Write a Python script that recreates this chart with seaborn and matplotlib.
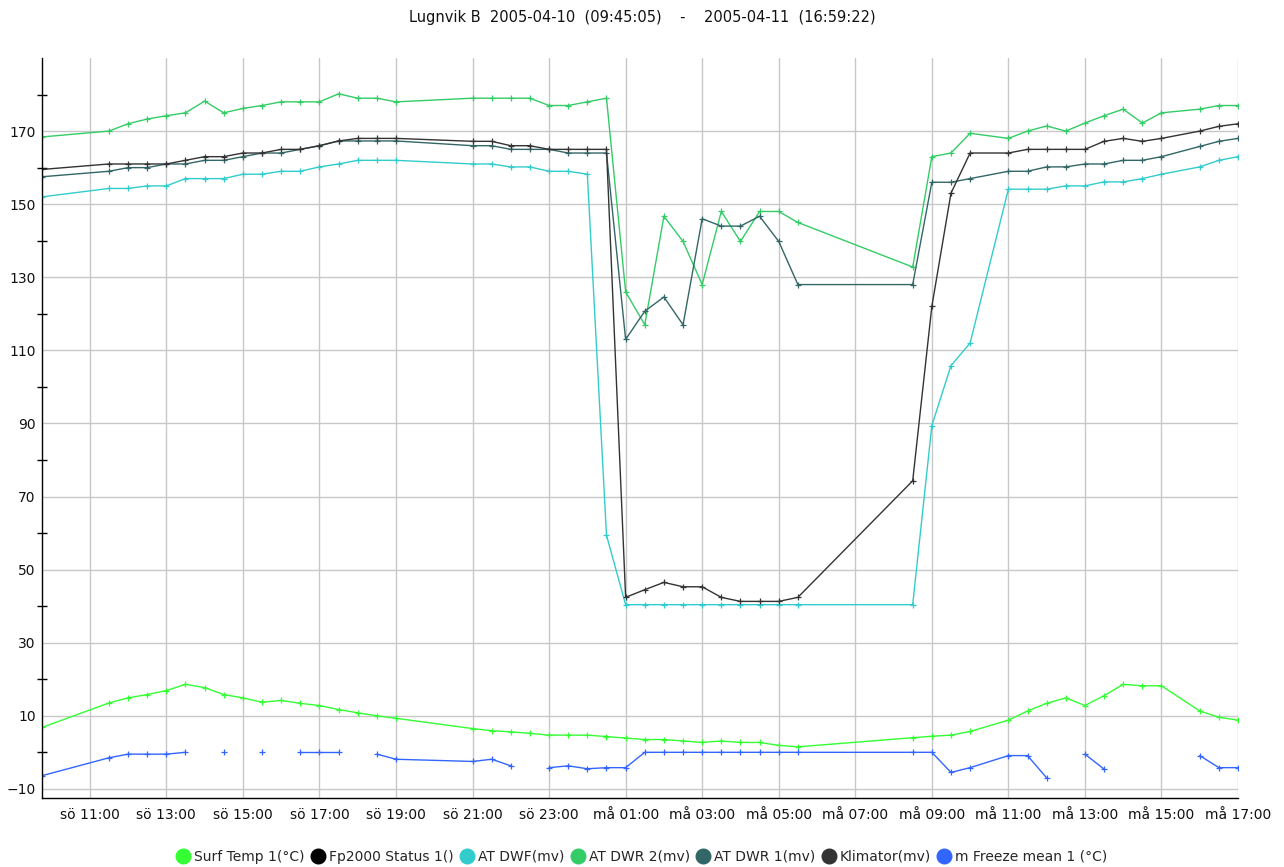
import numpy as np
import pandas as pd
import matplotlib
matplotlib.use("Agg")
import matplotlib.pyplot as plt
import matplotlib.dates as mdates
from matplotlib.lines import Line2D
from matplotlib.ticker import FuncFormatter
import seaborn as sns

# tidpunkter for mätvärden
times = [
    "2005-04-10 09:45", "2005-04-10 11:30", "2005-04-10 12:00", "2005-04-10 12:30",
    "2005-04-10 13:00", "2005-04-10 13:30", "2005-04-10 14:00", "2005-04-10 14:30",
    "2005-04-10 15:00", "2005-04-10 15:30", "2005-04-10 16:00", "2005-04-10 16:30",
    "2005-04-10 17:00", "2005-04-10 17:30", "2005-04-10 18:00", "2005-04-10 18:30",
    "2005-04-10 19:00", "2005-04-10 21:00", "2005-04-10 21:30", "2005-04-10 22:00",
    "2005-04-10 22:30", "2005-04-10 23:00", "2005-04-10 23:30", "2005-04-11 00:00",
    "2005-04-11 00:30", "2005-04-11 01:00", "2005-04-11 01:30", "2005-04-11 02:00",
    "2005-04-11 02:30", "2005-04-11 03:00", "2005-04-11 03:30", "2005-04-11 04:00",
    "2005-04-11 04:30", "2005-04-11 05:00", "2005-04-11 05:30", "2005-04-11 08:30",
    "2005-04-11 09:00", "2005-04-11 09:30", "2005-04-11 10:00", "2005-04-11 11:00",
    "2005-04-11 11:30", "2005-04-11 12:00", "2005-04-11 12:30", "2005-04-11 13:00",
    "2005-04-11 13:30", "2005-04-11 14:00", "2005-04-11 14:30", "2005-04-11 15:00",
    "2005-04-11 16:00", "2005-04-11 16:30", "2005-04-11 17:00",
]

nan = np.nan

surf_temp = [
    6.8, 13.5, 14.9, 15.8, 16.9, 18.6, 17.7, 15.8, 14.9, 13.7, 14.2, 13.4,
    12.8, 11.7, 10.8, 10.0, 9.3, 6.5, 5.9, 5.6, 5.2, 4.7, 4.7, 4.7,
    4.3, 3.9, 3.5, 3.5, 3.1, 2.7, 3.1, 2.7, 2.7, 1.9, 1.5, 4.0,
    4.4, 4.7, 5.7, 8.8, 11.3, 13.4, 14.9, 12.8, 15.5, 18.6, 18.2, 18.2,
    11.3, 9.6, 8.8,
]

fp2000_status = [nan] * len(times)

at_dwf = [
    152, 154.3, 154.3, 155, 155, 157, 157, 157, 158.2, 158.2, 159, 159,
    160.2, 161, 162, 162, 162, 161, 161, 160.2, 160.2, 159, 159, 158.2,
    59.4, 40.4, 40.4, 40.4, 40.4, 40.4, 40.4, 40.4, 40.4, 40.4, 40.4, 40.4,
    89.4, 105.8, 112, 154.1, 154.1, 154.1, 155, 155, 156.1, 156.1, 157, 158.2,
    160.2, 162, 163,
]

at_dwr2 = [
    168.4, 170, 172, 173.3, 174.2, 175, 178.2, 175, 176.2, 177, 178, 178,
    178, 180.2, 179, 179, 178, 179, 179, 179, 179, 177, 177, 178,
    179, 126, 117, 146.7, 139.8, 128, 148, 139.8, 148, 148, 145, 132.8,
    163, 164, 169.4, 168, 170, 171.4, 170, 172.2, 174.2, 176, 172.2, 175,
    176, 177, 177,
]

at_dwr1 = [
    157.5, 159, 160, 160, 161, 161, 162, 162, 163, 164, 164, 165,
    166, 167.3, 167.3, 167.3, 167.3, 166, 166, 165, 165, 165, 164, 164,
    164, 113, 120.7, 124.6, 117, 146, 144, 144, 146.7, 139.8, 128, 128,
    156, 156, 157, 159, 159, 160.2, 160.2, 161, 161, 162, 162, 163,
    165.8, 167.2, 168,
]

klimator = [
    159.5, 161, 161, 161, 161, 162, 163, 163, 164, 164, 165, 165,
    166, 167.3, 168, 168, 168, 167.2, 167.2, 166, 166, 165, 165, 165,
    165, 42.4, 44.5, 46.5, 45.3, 45.3, 42.4, 41.3, 41.3, 41.3, 42.4, 74.3,
    122, 153, 164, 164, 165, 165, 165, 165, 167.2, 168, 167.2, 168,
    170, 171.3, 172,
]

freeze_mean = [
    -6.4, -1.5, -0.5, -0.5, -0.5, 0, nan, 0, nan, 0, nan, 0,
    0, 0, nan, -0.5, -1.9, -2.5, -1.9, -3.7, nan, -4.2, -3.7, -4.5,
    -4.2, -4.2, 0, 0, 0, 0, 0, 0, 0, 0, 0, 0,
    0, -5.5, -4.2, -0.9, -0.9, -7.0, nan, -0.5, -4.6, nan, nan, nan,
    -0.9, -4.2, -4.2,
]

series_names = [
    "Surf Temp 1(°C)", "Fp2000 Status 1()", "AT DWF(mv)", "AT DWR 2(mv)",
    "AT DWR 1(mv)", "Klimator(mv)", "m Freeze mean 1 (°C)",
]
series_values = [surf_temp, fp2000_status, at_dwf, at_dwr2, at_dwr1, klimator, freeze_mean]
series_colors = ["#33ff33", "#000000", "#33cccc", "#33cc66", "#336666", "#333333", "#3366ff"]

WEEKDAYS = {0: "må", 1: "ti", 2: "on", 3: "to", 4: "fr", 5: "lö", 6: "sö"}


def fmt_time(x, pos=None):
    d = mdates.num2date(x)
    return f"{WEEKDAYS[d.weekday()]} {d:%H:%M}"


def main():
    sns.set_theme(style="white")
    plt.rcParams["font.family"] = ["DejaVu Sans"]

    fig = plt.figure(figsize=(12.84, 8.67), dpi=100)
    ax = fig.add_axes([0.0327, 0.0796, 0.9315, 0.8535])

    t = pd.to_datetime(times)
    for name, vals, col in zip(series_names, series_values, series_colors):
        d = pd.DataFrame({"time": t, "value": vals})
        # NaN bryter linjen: varje segment ritas separat
        d["seg"] = d["value"].isna().cumsum()
        d = d.dropna()
        if d.empty:
            continue
        sns.lineplot(data=d, x="time", y="value", units="seg", estimator=None,
                     sort=False, color=col, linewidth=1, marker="+", markersize=5,
                     markeredgecolor=col, markeredgewidth=0.9, legend=False, ax=ax)

    ax.set_xlim(pd.Timestamp("2005-04-10 09:45:05"), pd.Timestamp("2005-04-11 17:00:00"))
    ax.set_ylim(-12.5, 190)
    ax.set_xlabel("")
    ax.set_ylabel("")

    ax.xaxis.set_major_locator(mdates.HourLocator(byhour=range(1, 24, 2)))
    ax.xaxis.set_major_formatter(FuncFormatter(fmt_time))
    ax.set_yticks(np.arange(-10, 171, 20))
    ax.set_yticks(np.arange(0, 181, 20), minor=True)

    ax.grid(True, which="major", color="#c8c8c8", linewidth=1)
    ax.set_axisbelow(True)
    ax.tick_params(axis="both", which="major", direction="inout", length=7,
                   width=1, color="black", labelsize=10, labelcolor="#111111")
    ax.tick_params(axis="y", which="minor", direction="inout", length=7, width=1,
                   color="black", left=True)
    ax.tick_params(axis="y", pad=1)
    ax.tick_params(axis="x", pad=4)

    for side in ["top", "right"]:
        ax.spines[side].set_visible(False)
    for side in ["left", "bottom"]:
        ax.spines[side].set_color("black")
        ax.spines[side].set_linewidth(1)

    fig.text(0.5, 0.98, "Lugnvik B  2005-04-10  (09:45:05)    -    2005-04-11  (16:59:22)",
             ha="center", va="center", fontsize=10.5, color="#111111")

    handles = [Line2D([], [], linestyle="", marker="o", markersize=10.5,
                      markerfacecolor=c, markeredgecolor=c) for c in series_colors]
    fig.legend(handles, series_names, loc="center", bbox_to_anchor=(0.5, 0.012),
               ncol=7, frameon=False, fontsize=10, handlelength=1.0,
               handletextpad=0.3, columnspacing=0.45, borderaxespad=0)

    fig.savefig("out.png", dpi=100)


if __name__ == "__main__":
    main()
